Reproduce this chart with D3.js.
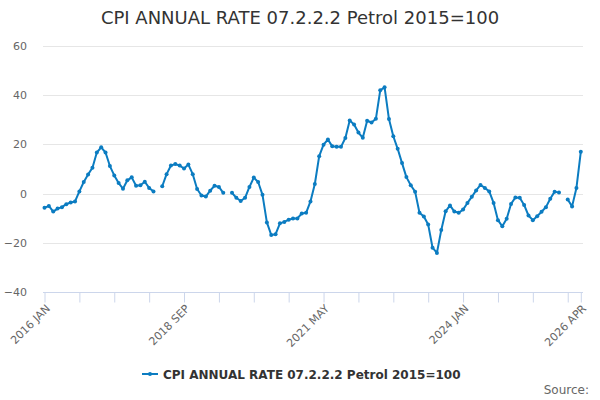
<!DOCTYPE html>
<html>
<head>
<meta charset="utf-8">
<script src="https://cdn.jsdelivr.net/npm/d3@7"></script>
<style>
  body { margin: 0; background: #fff; }
  svg { font-family: "DejaVu Sans", sans-serif; }
</style>
</head>
<body>
<svg id="chart"></svg>
<script>
var screen = {width: 600, height: 400}
var plot = {left: 43, right: 583, top: 46, bottom: 292}

var title = "CPI ANNUAL RATE 07.2.2.2 Petrol 2015=100"
var seriesName = "CPI ANNUAL RATE 07.2.2.2 Petrol 2015=100"

// months Jan 2016 .. Apr 2026
var monthNames = ["JAN","FEB","MAR","APR","MAY","JUN","JUL","AUG","SEP","OCT","NOV","DEC"]
var years = [2016,2017,2018,2019,2020,2021,2022,2023,2024,2025,2026]

var rates = [
  -5.8, -5.0, -7.3, -6.1, -5.5, -4.3, -3.6, -3.2, 0.9, 4.7, 7.8, 10.5,
  16.7, 18.8, 16.7, 11.2, 7.4, 4.3, 2.0, 5.4, 6.6, 3.2, 3.4, 4.8,
  2.3, 0.9, null, 3.0, 7.9, 11.4, 12.0, 11.4, 10.2, 11.8, 7.9, 1.9,
  -0.8, -1.2, 1.2, 3.2, 2.7, 0.3, null, 0.3, -1.7, -3.0, -1.7, 2.7,
  6.5, 4.7, -0.5, -11.7, -16.8, -16.5, -12.1, -11.5, -10.6, -10.1, -10.1, -8.1,
  -7.8, -3.2, 3.9, 15.2, 19.9, 22.0, 19.2, 19.0, 19.0, 22.6, 29.7, 28.1,
  24.8, 22.7, 29.6, 28.9, 30.4, 42.0, 43.2, 30.3, 23.3, 18.2, 12.4, 6.7,
  3.4, 0.8, -7.8, -9.3, -12.6, -22.0, -24.1, -14.8, -7.2, -4.8, -7.3, -7.8,
  -6.5, -3.8, -1.3, 1.3, 3.5, 2.3, 0.9, -3.8, -10.8, -13.3, -10.2, -4.2,
  -1.6, -1.7, -4.6, -8.9, -10.8, -9.2, -7.4, -5.5, -2.1, 0.8, 0.4, null,
  -2.4, -5.2, 2.3, 17.0
]

var yTicks = [-40, -20, 0, 20, 40, 60]
var labelEvery = 32
var tickEvery = 8

var months = []
years.forEach(function(y) {
  monthNames.forEach(function(m) { months.push(y + " " + m) })
})
months = months.slice(0, rates.length)

var color = "#0b7cc1"

var svg = d3.select("#chart")
  .attr("width", screen.width)
  .attr("height", screen.height)

var xScale = d3.scaleLinear()
  .domain([0, months.length - 1])
  .range([44.5, 580.8])
var yScale = d3.scaleLinear()
  .domain([-40, 60])
  .range([plot.bottom, plot.top])

// title
svg.append("text")
  .attr("x", 300).attr("y", 24)
  .attr("text-anchor", "middle")
  .attr("fill", "#333")
  .style("font-size", "18px")
  .text(title)

// grid
svg.append("g")
  .selectAll("line")
  .data(yTicks.filter(function(t) { return t > -40 }))
  .enter()
  .append("line")
  .attr("x1", plot.left).attr("x2", plot.right)
  .attr("y1", function(t) { return Math.round(yScale(t)) + 0.5 })
  .attr("y2", function(t) { return Math.round(yScale(t)) + 0.5 })
  .attr("stroke", "#e6e6e6")

// y axis labels
var yAxis = d3.axisLeft(yScale).tickValues(yTicks).tickSize(0).tickPadding(0)
var yg = svg.append("g")
  .attr("transform", "translate(27,0)")
  .call(yAxis)
yg.select(".domain").remove()
yg.selectAll("text")
  .attr("fill", "#666")
  .style("font-size", "11px")
  .style("font-family", "DejaVu Sans, sans-serif")

// x axis
var tickIdx = d3.range(0, months.length, tickEvery)
tickIdx.push(months.length - 1)
var xAxis = d3.axisBottom(xScale)
  .tickValues(tickIdx)
  .tickSize(10)
  .tickSizeOuter(0)
  .tickFormat(function(i) {
    return (i % labelEvery === 0 || i === months.length - 1) ? months[i] : ""
  })
var xg = svg.append("g")
  .attr("transform", "translate(0," + (plot.bottom + 0.5) + ")")
  .call(xAxis)
xg.select(".domain")
  .attr("d", "M" + plot.left + ",0H" + plot.right)
  .attr("stroke", "#ccd6eb")
xg.selectAll(".tick line").attr("stroke", "#ccd6eb")
xg.selectAll(".tick text")
  .attr("fill", "#666")
  .style("font-size", "11px")
  .style("font-family", "DejaVu Sans, sans-serif")
  .attr("text-anchor", "end")
  .attr("dy", "0.35em")
  .attr("transform", "translate(3,14) rotate(-45)")
  .attr("y", 0)
  .attr("x", 0)

// line
var line = d3.line()
  .defined(function(d) { return d !== null })
  .x(function(d, i) { return xScale(i) })
  .y(function(d) { return yScale(d) })

svg.append("path")
  .datum(rates)
  .attr("d", line)
  .attr("fill", "none")
  .attr("stroke", color)
  .attr("stroke-width", 2)
  .attr("stroke-linejoin", "round")

svg.append("g")
  .selectAll("circle")
  .data(rates.map(function(v, i) { return {v: v, i: i} }).filter(function(d) { return d.v !== null }))
  .enter()
  .append("circle")
  .attr("cx", function(d) { return xScale(d.i) })
  .attr("cy", function(d) { return yScale(d.v) })
  .attr("r", 2)
  .attr("fill", color)

// legend
var legend = svg.append("g").attr("transform", "translate(142,374)")
legend.append("line")
  .attr("x1", 0).attr("x2", 16).attr("y1", 0).attr("y2", 0)
  .attr("stroke", color).attr("stroke-width", 2)
legend.append("circle").attr("cx", 8).attr("cy", 0).attr("r", 2).attr("fill", color)
legend.append("text")
  .attr("x", 21).attr("y", 4.5)
  .attr("fill", "#333")
  .style("font-size", "12px")
  .style("font-weight", "bold")
  .text(seriesName)

// credits
svg.append("text")
  .attr("x", 589).attr("y", 394)
  .attr("text-anchor", "end")
  .attr("fill", "#666")
  .style("font-size", "12px")
  .text("Source:")
</script>
</body>
</html>
